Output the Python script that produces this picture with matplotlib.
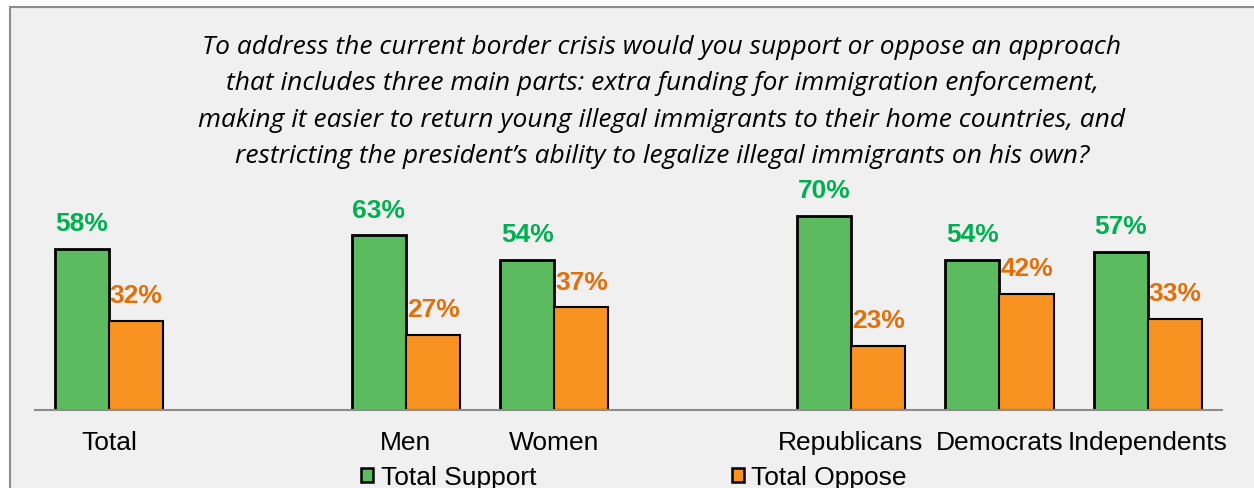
import matplotlib.pyplot as plt
from matplotlib.patches import Rectangle, Patch
import numpy as np

# blank entries are the gaps between the groups
categories = ['Total', '', 'Men', 'Women', '', 'Republicans', 'Democrats', 'Independents']
support = [58, None, 63, 54, None, 70, 54, 57]
oppose = [32, None, 27, 37, None, 23, 42, 33]
series_names = ['Total Support', 'Total Oppose']

title = ('To address the current border crisis would you support or oppose an approach\n'
         'that includes three main parts: extra funding for immigration enforcement,\n'
         'making it easier to return young illegal immigrants to their home countries, and\n'
         'restricting the president\u2019s ability to legalize illegal immigrants on his own?')

bar_green = '#5cbb5e'
bar_orange = '#f89220'
txt_green = '#00b050'
txt_orange = '#e0700c'
bg = '#f0f0f0'

fig = plt.figure(figsize=(12.54, 4.89), dpi=100)
fig.patch.set_facecolor('white')
# grey panel with a frame on top and left
fig.patches.append(Rectangle((10 / 1254, -0.1), 1.2, 0.1 + (489 - 8) / 489,
                             transform=fig.transFigure, facecolor=bg,
                             edgecolor='#8c8c8c', linewidth=1.5, zorder=-5))

ax = fig.add_axes([35 / 1254, 78 / 489, (1222 - 35) / 1254, 221.7 / 489])
ax.set_facecolor('none')
ax.set_zorder(2)

x = np.arange(len(categories))
w = 0.365
for i, (s, o) in enumerate(zip(support, oppose)):
    if s is None:
        continue
    ax.bar(x[i] - w / 2, s, w, color=bar_green, edgecolor='black', linewidth=2)
    ax.bar(x[i] + w / 2, o, w, color=bar_orange, edgecolor='black', linewidth=1.5)
    ax.annotate(f'{s}%', (x[i] - w / 2, s), xytext=(0, 10), textcoords='offset points',
                ha='center', va='bottom', color=txt_green, fontsize=19,
                fontweight='bold', family='Liberation Sans')
    ax.annotate(f'{o}%', (x[i] + w / 2, o), xytext=(0, 10), textcoords='offset points',
                ha='center', va='bottom', color=txt_orange, fontsize=19,
                fontweight='bold', family='Liberation Sans')

ax.set_xlim(-0.5, 7.5)
ax.set_ylim(0, 80)
ax.set_xticks(x)
ax.set_xticklabels(categories, fontsize=19, family='Liberation Sans')
ax.tick_params(axis='x', length=0, pad=14.5)
ax.set_yticks([])
for side in ['top', 'left', 'right']:
    ax.spines[side].set_visible(False)
ax.spines['bottom'].set_color('#8c8c8c')
ax.spines['bottom'].set_linewidth(1.5)

fig.text(662 / 1254, 1 - 102 / 489, title, ha='center', va='center', fontsize=19,
         style='italic', family='Open Sans', linespacing=1.6)

handles = [Patch(facecolor=bar_green, edgecolor='black', linewidth=1.8),
           Patch(facecolor=bar_orange, edgecolor='black', linewidth=1.8)]
fig.legend(handles, series_names, loc='center', bbox_to_anchor=(634 / 1254, 1 - 478 / 489),
           ncol=2, frameon=False, handlelength=0.45, handleheight=0.45, handletextpad=0.3,
           columnspacing=7.4, borderpad=0, prop={'family': 'Liberation Sans', 'size': 19})

fig.savefig('out.png', dpi=100, facecolor=fig.get_facecolor())
